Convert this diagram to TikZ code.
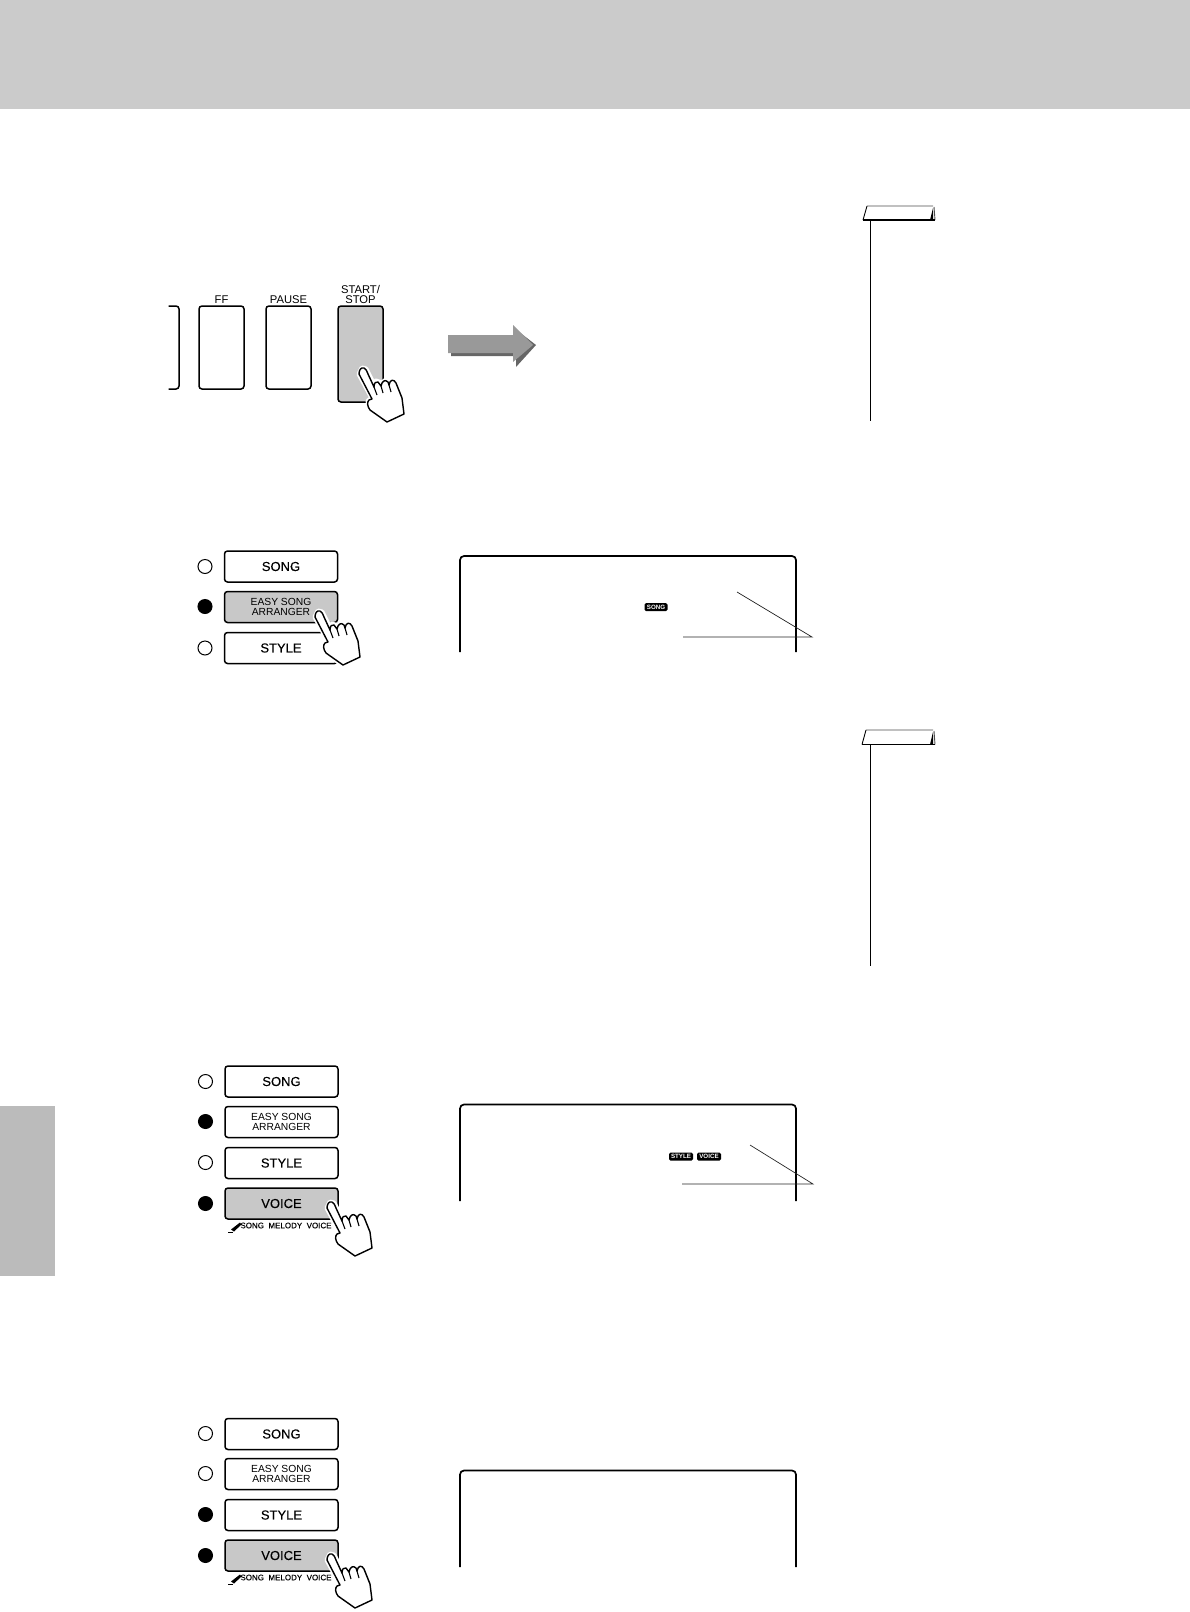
\documentclass[tikz,border=0pt]{standalone}
\usepackage{fontspec}
\setmainfont{Liberation Sans}
\newfontfamily\btnfont[FakeBold=0.25]{Liberation Sans}
\usetikzlibrary{positioning}
\definecolor{headgray}{HTML}{CBCBCB}
\definecolor{tabgray}{HTML}{BBBBBB}
\definecolor{btngray}{HTML}{C8C8C8}
\definecolor{arrmain}{HTML}{999999}
\definecolor{arrshade}{HTML}{666666}
\newcommand{\px}[1]{\fontsize{#1}{#1}\selectfont}

\begin{document}
\begin{tikzpicture}[
    x=1pt, y=-1pt,
    btn/.style={draw, line width=1.5pt, rounded corners=3pt, minimum width=113pt, minimum height=31pt,
                inner sep=0pt, align=center, font=\btnfont\px{13}},
    small/.style={btn, font=\fontsize{10.3}{9.5}\selectfont},
    on/.style={fill=btngray},
    key/.style={draw, line width=1.5pt, rounded corners=3pt, minimum width=45pt, minimum height=83pt, inner sep=0pt},
    lbl/.style={inner sep=0pt, align=center, font=\px{11.2}},
    led/.style={draw, circle, line width=1pt, minimum size=14pt, inner sep=0pt},
    ledon/.style={led, fill=black},
    lcd/.style={line width=1.7pt, rounded corners=4pt},
    badge/.style={fill=black, text=white, rounded corners=1.5pt, inner sep=0pt, minimum height=8pt, font=\px{6.2}\bfseries},
    callout/.style={line width=0.7pt, black!85},
    sub/.style={inner sep=0pt, font=\btnfont\px{8}},
    pressHand/.pic={
      \path[fill=white, draw=white, line width=5pt, line join=round]
        (-4,6) -- (9,30) -- (5,33) -- (7,42) -- (24,54) -- (41,46) -- (39,30) -- (32,13)
        -- (28,11) -- (25,14) -- (23,12) -- (19,15) -- (13,13) -- (11,17) -- (3,1) -- (-1,0) -- cycle;
      \draw[fill=white, line width=1.4pt, line join=round]
        (-4,6) .. controls (-4,2) and (-2,-1) .. (1,0) .. controls (3,1) and (4,3) .. (5,6)
        -- (11,19) .. controls (11,15) and (13,13) .. (15,14) -- (18,18)
        .. controls (19,13) and (22,11) .. (25,14) -- (26,17)
        .. controls (27,11) and (31,11) .. (33,15) -- (39,30) -- (41,46) -- (24,54) -- (7,42)
        .. controls (4,38) and (4,34) .. (6,32) -- (9,31) -- cycle;
      \draw[line width=1.1pt] (11,19) -- (14,27) (18,18) -- (20,25) (26,17) -- (28,24);
    }
  ]
  \useasboundingbox (0,0) rectangle (1190,1612);
  \fill[headgray] (0,0) rectangle (1190,109);
  \fill[tabgray] (0,1106) rectangle (55,1276);

  % Transport keys
  \draw[line width=1.5pt, rounded corners=3pt] (168.5,306) -- (179,306) -- (179,389) -- (168.5,389);
  \node[key] (keyFF) at (221.5,347.5) {};
  \node[key] (keyPause) at (288.5,347.5) {};
  \node[key, fill=btngray, minimum height=96pt] (keyStart) at (360.5,354) {};
  \node[lbl, above=1.5pt of keyFF] (lblFF) {FF};
  \node[lbl, above=1.5pt of keyPause] (lblPause) {PAUSE};
  \node[lbl, above=1.5pt of keyStart, font=\fontsize{11.2}{10}\selectfont] (lblStart) {START/\\STOP};
  \pic at (363,368) {pressHand};

  \fill[arrshade] (451,345) -- (514,345) -- (514,328) -- (536,345) -- (516,367) -- (516,356) -- (451,356) -- cycle;
  \fill[arrmain] (448,335) -- (513,335) -- (513,325) -- (533,345) -- (513,362) -- (513,353) -- (448,353) -- cycle;

  % Note tabs
  \draw[line width=0.9pt, black!70] (867,206) -- (933,206) (934,207) -- (935,220);
  \draw[line width=0.9pt] (867,206) -- (863,220);
  \draw[line width=1.1pt] (863,220) -- (935,220);
  \fill (930,220) -- (933,208) -- (933,220) -- cycle;
  \draw[line width=1pt] (870,220) -- (870,421);

  \draw[line width=0.9pt, black!70] (866,730) -- (933,730) (934,731) -- (935,744.5);
  \draw[line width=0.9pt] (866,730) -- (862,744.5);
  \draw[line width=1.1pt] (862,744.5) -- (935,744.5);
  \fill (930,744.5) -- (933,732) -- (933,744.5) -- cycle;
  \draw[line width=1pt] (870,744.5) -- (870,966);

  % First group of buttons
  \node[btn] (songA) at (281,566.5) {SONG};
  \node[small, on] (easyA) at (281,607) {EASY SONG\\ARRANGER};
  \node[btn] (styleA) at (281,648) {STYLE};
  \node[led] (ledSongA) at (205,566.5) {};
  \node[ledon] (ledEasyA) at (205,606.5) {};
  \node[led] (ledStyleA) at (205,648) {};
  \pic at (319,611) {pressHand};

  \draw[lcd] (460,652) -- (460,556) -- (796,556) -- (796,652);
  \node[badge, minimum width=23pt] (tagSongA) at (656,607) {SONG};
  \coordinate (tipA) at (812,637);
  \coordinate (diagA) at (737,592);
  \coordinate (flatA) at (683,637);
  \draw[callout] (diagA) -- (tipA) -- (flatA);

  % Second group of buttons
  \node[btn] (songB) at (281.5,1081.5) {SONG};
  \node[small] (easyB) at (281.5,1122) {EASY SONG\\ARRANGER};
  \node[btn] (styleB) at (281.5,1163) {STYLE};
  \node[btn, on] (voiceB) at (281.5,1203.5) {VOICE};
  \node[led] (ledSongB) at (205.5,1081.5) {};
  \node[ledon] (ledEasyB) at (205.5,1121.5) {};
  \node[led] (ledStyleB) at (205.5,1162.5) {};
  \node[ledon] (ledVoiceB) at (205.5,1203.5) {};
  \node[sub] (subB) at (286,1225.5) {SONG\ \ MELODY\ \ VOICE};
  \fill (240,1222.5) -- (241.5,1224.5) -- (234,1231.5) -- (231,1229.5) -- cycle;
  \draw[line width=1pt] (228,1232.5) -- (233,1232.5);
  \pic at (331,1202) {pressHand};

  \draw[lcd] (460,1201) -- (460,1104.5) -- (796,1104.5) -- (796,1201);
  \node[badge, minimum width=24pt] (tagStyleB) at (681,1156.5) {STYLE};
  \node[badge, minimum width=24pt] (tagVoiceB) at (709,1156.5) {VOICE};
  \coordinate (tipB) at (813,1184);
  \coordinate (diagB) at (750,1145);
  \coordinate (flatB) at (682,1184);
  \draw[callout] (diagB) -- (tipB) -- (flatB);

  % Third group of buttons
  \node[btn] (songC) at (281.5,1434) {SONG};
  \node[small] (easyC) at (281.5,1474) {EASY SONG\\ARRANGER};
  \node[btn] (styleC) at (281.5,1515) {STYLE};
  \node[btn, on] (voiceC) at (281.5,1555.5) {VOICE};
  \node[led] (ledSongC) at (205.5,1433.5) {};
  \node[led] (ledEasyC) at (205.5,1473.5) {};
  \node[ledon] (ledStyleC) at (205.5,1514.5) {};
  \node[ledon] (ledVoiceC) at (205.5,1555.5) {};
  \node[sub] (subC) at (286,1577.5) {SONG\ \ MELODY\ \ VOICE};
  \fill (240,1574.5) -- (241.5,1576.5) -- (234,1583.5) -- (231,1581.5) -- cycle;
  \draw[line width=1pt] (228,1584.5) -- (233,1584.5);
  \pic at (331,1554) {pressHand};

  \draw[lcd] (460,1567) -- (460,1470.5) -- (796,1470.5) -- (796,1567);
\end{tikzpicture}
\end{document}
